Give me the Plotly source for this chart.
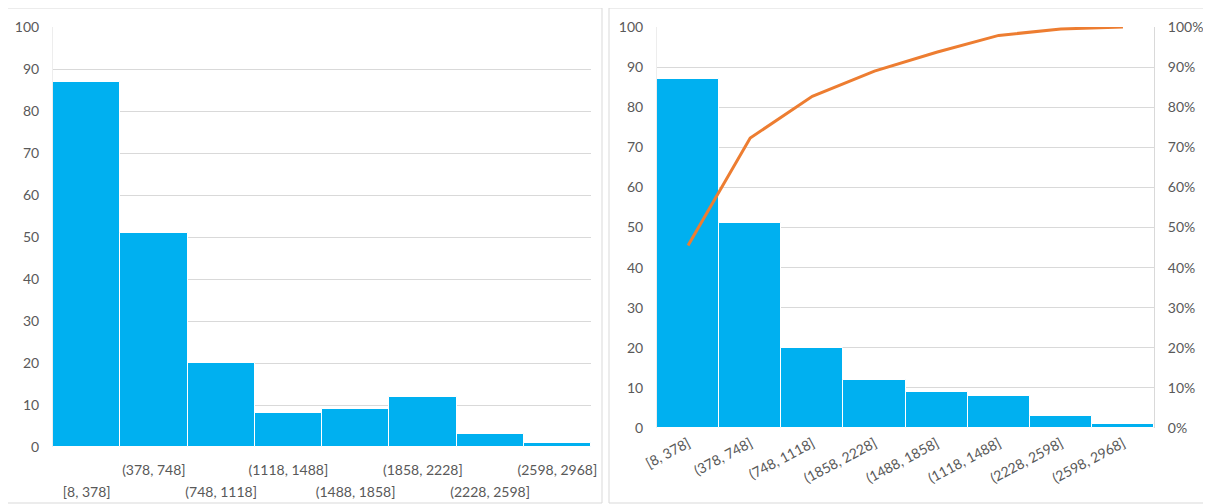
import plotly.graph_objects as go

# ---- data ----
bins = ["[8, 378]", "(378, 748]", "(748, 1118]", "(1118, 1488]", "(1488, 1858]",
        "(1858, 2228]", "(2228, 2598]", "(2598, 2968]"]
counts = [87, 51, 20, 8, 9, 12, 3, 1]

pareto_bins = ["[8, 378]", "(378, 748]", "(748, 1118]", "(1858, 2228]", "(1488, 1858]",
               "(1118, 1488]", "(2228, 2598]", "(2598, 2968]"]
pareto_counts = [87, 51, 20, 12, 9, 8, 3, 1]
cum_pct = [0.455, 0.723, 0.827, 0.890, 0.937, 0.979, 0.995, 1.0]

y_ticks = list(range(0, 101, 10))
pct_ticks = [i / 10 for i in range(11)]

W, H = 1211, 504
OFF = 8  # page body margin
BAR = "#00B0F0"
LINE = "#ED7D31"
GRID = "#D9D9D9"
TXT = "#595959"
FONT = "Lato"

def px(x):
    return (x - OFF) / W

def py(y):
    return 1 - (y - OFF) / H

idx = list(range(len(bins)))
even = idx[0::2]
odd = idx[1::2]

fig = go.Figure()

bar_marker = dict(color=BAR, line=dict(color="white", width=1))
# left histogram: alternate bins drawn on two overlaid axes so labels can stagger
fig.add_trace(go.Bar(x=even, y=[counts[i] for i in even], width=1, marker=bar_marker,
                     xaxis="x", yaxis="y", showlegend=False))
fig.add_trace(go.Bar(x=odd, y=[counts[i] for i in odd], width=1, marker=bar_marker,
                     xaxis="x3", yaxis="y", showlegend=False))
# right pareto
fig.add_trace(go.Bar(x=pareto_bins, y=pareto_counts, marker=bar_marker,
                     xaxis="x2", yaxis="y2", showlegend=False))
fig.add_trace(go.Scatter(x=pareto_bins, y=cum_pct, mode="lines",
                         line=dict(color=LINE, width=3), xaxis="x2", yaxis="y3",
                         showlegend=False))

tf = dict(family=FONT, size=14, color=TXT)

fig.update_layout(
    width=W, height=H,
    margin=dict(l=0, r=0, t=0, b=0),
    paper_bgcolor="white", plot_bgcolor="white",
    bargap=0,
    font=tf,
    xaxis=dict(domain=[px(53), px(591)], anchor="y", type="linear", range=[-0.5, 7.5],
               tickvals=even, ticktext=[bins[i] for i in even], showgrid=False,
               zeroline=False, showline=False, ticks="", tickfont=tf,
               ticklabelstandoff=35, automargin=False),
    xaxis3=dict(domain=[px(53), px(591)], anchor="y", overlaying="x", type="linear",
                range=[-0.5, 7.5], tickvals=odd, ticktext=[bins[i] for i in odd],
                showgrid=False, zeroline=False, showline=False, ticks="", tickfont=tf,
                ticklabelstandoff=13, automargin=False),
    yaxis=dict(domain=[py(447), py(27)], anchor="x", range=[0, 100], tickvals=y_ticks,
               showgrid=True, gridcolor=GRID, gridwidth=1, zeroline=False,
               showline=True, linecolor="#EDEDED", tickfont=tf, ticklabelstandoff=10,
               automargin=False),
    xaxis2=dict(domain=[px(657), px(1154)], anchor="y2", type="category",
                categoryorder="array", categoryarray=pareto_bins, tickangle=-28,
                showgrid=False, zeroline=False, showline=False, ticks="", tickfont=tf,
                ticklabelstandoff=4, automargin=False),
    yaxis2=dict(domain=[py(428), py(27)], anchor="x2", range=[0, 100], tickvals=y_ticks,
                showgrid=True, gridcolor=GRID, gridwidth=1, zeroline=False,
                showline=True, linecolor="#EDEDED", tickfont=tf, ticklabelstandoff=10,
                automargin=False),
    yaxis3=dict(domain=[py(428), py(27)], anchor="x2", overlaying="y2", side="right",
                range=[0, 1], tickvals=pct_ticks, tickformat=".0%", showgrid=False,
                zeroline=False, showline=True, linecolor=GRID, tickfont=tf,
                ticklabelstandoff=10, automargin=False),
    shapes=[
        dict(type="rect", xref="paper", yref="paper", x0=px(6), x1=px(602),
             y0=py(503), y1=py(8), line=dict(color=GRID, width=1)),
        dict(type="rect", xref="paper", yref="paper", x0=px(609), x1=px(1210),
             y0=py(503), y1=py(8), line=dict(color=GRID, width=1)),
    ],
)

fig.write_html("out.html")
